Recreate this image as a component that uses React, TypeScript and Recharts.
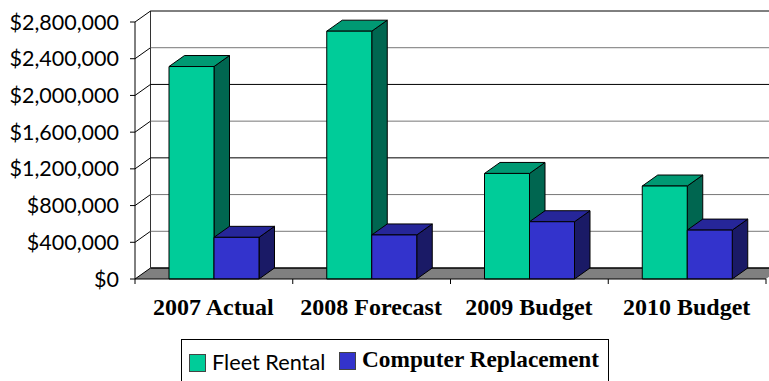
import { BarChart, Bar, XAxis, YAxis, CartesianGrid, Legend } from "recharts";

const categories = ["2007 Actual", "2008 Forecast", "2009 Budget", "2010 Budget"];
const fleetRental = [2315000, 2700000, 1150000, 1013000];
const computerReplacement = [454000, 480000, 624000, 533000];
const valueTicks = [0, 400000, 800000, 1200000, 1600000, 2000000, 2400000, 2800000];

const FLEET = { front: "#00CC99", top: "#009973", side: "#006650" };
const COMPUTER = { front: "#3333CC", top: "#262699", side: "#1A1A66" };

// fake 3D: how far the back wall sits from the front plane
const DX = 15.5;
const DY = 11;
const BAND = 157.75;

const data = categories.map((name, i) => ({
  name,
  fleet: fleetRental[i],
  computer: computerReplacement[i],
}));

const money = (v: number) => "$" + v.toLocaleString("en-US");

function Box3D({ x, y, width, height, colors }: any) {
  const r = x + width;
  const b = y + height;
  return (
    <g stroke="#000" strokeWidth={1} strokeLinejoin="round">
      <polygon points={`${r},${y} ${r + DX},${y - DY} ${r + DX},${b - DY} ${r},${b}`} fill={colors.side} />
      <polygon points={`${x},${y} ${x + DX},${y - DY} ${r + DX},${y - DY} ${r},${y}`} fill={colors.top} />
      <rect x={x} y={y} width={width} height={height} fill={colors.front} />
    </g>
  );
}

// back wall rule plus the diagonal across the side wall; the zero line becomes the floor
function WallLine({ x1, y1, x2, y, index }: any) {
  const backY = y1 - DY;
  const left = x1 + DX;
  if (index === 0 || y1 > 270) {
    return (
      <g>
        <polygon points={`${x1},${y1} ${left},${backY} ${x2 + DX},${backY} ${x2},${y1}`} fill="#808080" />
        <line x1={x1} y1={y1} x2={left} y2={backY} stroke="#000" />
        <line x1={left} y1={backY} x2={x2 + DX} y2={backY} stroke="#000" strokeWidth={1.5} />
        <line x1={left} y1={backY} x2={left} y2={y - DY} stroke="#333" />
      </g>
    );
  }
  const v = Math.round((279 - y1) / 36.7);
  const stroke = v % 2 === 1 && v > 2 ? "#000" : "#777";
  return (
    <g>
      <line x1={x1} y1={y1} x2={left} y2={backY} stroke="#000" />
      <line x1={left} y1={backY} x2={x2 + DX} y2={backY} stroke={stroke} />
    </g>
  );
}

// ticks sit on the band edges, labels in the band middle
function CategoryTick({ x, payload, index }: any) {
  const edge = x - BAND / 2;
  return (
    <g>
      <line x1={edge} y1={279} x2={edge} y2={284} stroke="#000" />
      {index === categories.length - 1 && (
        <line x1={edge + BAND} y1={279} x2={edge + BAND} y2={284} stroke="#000" />
      )}
      <text
        x={x - 0.5}
        y={315}
        textAnchor="middle"
        fontFamily="Liberation Serif"
        fontWeight="bold"
        fontSize={24}
        fill="#000"
      >
        {payload.value}
      </text>
    </g>
  );
}

function KeyBox() {
  const swatch = (color: string, left: number, top: number) => ({
    position: "absolute" as const,
    left,
    top,
    width: 17,
    height: 18,
    background: color,
    border: "1px solid #444",
    boxSizing: "border-box" as const,
  });
  return (
    <div
      style={{
        position: "absolute",
        left: 0,
        top: 0,
        width: 428,
        height: 50,
        border: "1px solid #000",
        boxSizing: "border-box",
        background: "#fff",
      }}
    >
      <div style={swatch(FLEET.front, 7, 14)} />
      <div
        style={{
          position: "absolute",
          left: 30,
          top: 9,
          fontFamily: "Lato",
          fontSize: 21.7,
          whiteSpace: "nowrap",
          color: "#000",
        }}
      >
        Fleet Rental
      </div>
      <div style={swatch(COMPUTER.front, 157, 12)} />
      <div
        style={{
          position: "absolute",
          left: 180,
          top: 6,
          fontFamily: "Liberation Serif",
          fontWeight: "bold",
          fontSize: 23.3,
          whiteSpace: "nowrap",
          color: "#000",
        }}
      >
        Computer Replacement
      </div>
    </div>
  );
}

export default function App() {
  return (
    <div style={{ position: "absolute", left: 0, top: 0, width: 769, height: 381, overflow: "hidden", background: "#fff" }}>
      <BarChart
        width={800}
        height={381}
        data={data}
        margin={{ top: 22, right: 34, bottom: 0, left: 0 }}
        barCategoryGap={33}
        barGap={0}
      >
        <CartesianGrid vertical={false} horizontal={(p: any) => <WallLine key={p.key ?? p.index} {...p} />} />
        <XAxis
          dataKey="name"
          height={102}
          interval={0}
          tickLine={false}
          axisLine={{ stroke: "#000" }}
          tick={(p: any) => <CategoryTick {...p} />}
        />
        <YAxis
          width={135}
          domain={[0, 2800000]}
          ticks={valueTicks}
          tickFormatter={money}
          interval={0}
          tickSize={5}
          tickMargin={11}
          axisLine={{ stroke: "#000" }}
          tickLine={{ stroke: "#000" }}
          tick={{ fontFamily: "Lato", fontSize: 21.5, fill: "#000" }}
        />
        <Bar
          dataKey="fleet"
          name="Fleet Rental"
          barSize={45}
          isAnimationActive={false}
          shape={(p: any) => <Box3D {...p} colors={FLEET} />}
        />
        <Bar
          dataKey="computer"
          name="Computer Replacement"
          barSize={45}
          isAnimationActive={false}
          shape={(p: any) => <Box3D {...p} colors={COMPUTER} />}
        />
        <Legend
          layout="horizontal"
          verticalAlign="middle"
          align="center"
          content={() => <KeyBox />}
          wrapperStyle={{ position: "absolute", left: 181, top: 339, width: 428, height: 50, bottom: "auto", right: "auto" }}
        />
      </BarChart>
    </div>
  );
}
